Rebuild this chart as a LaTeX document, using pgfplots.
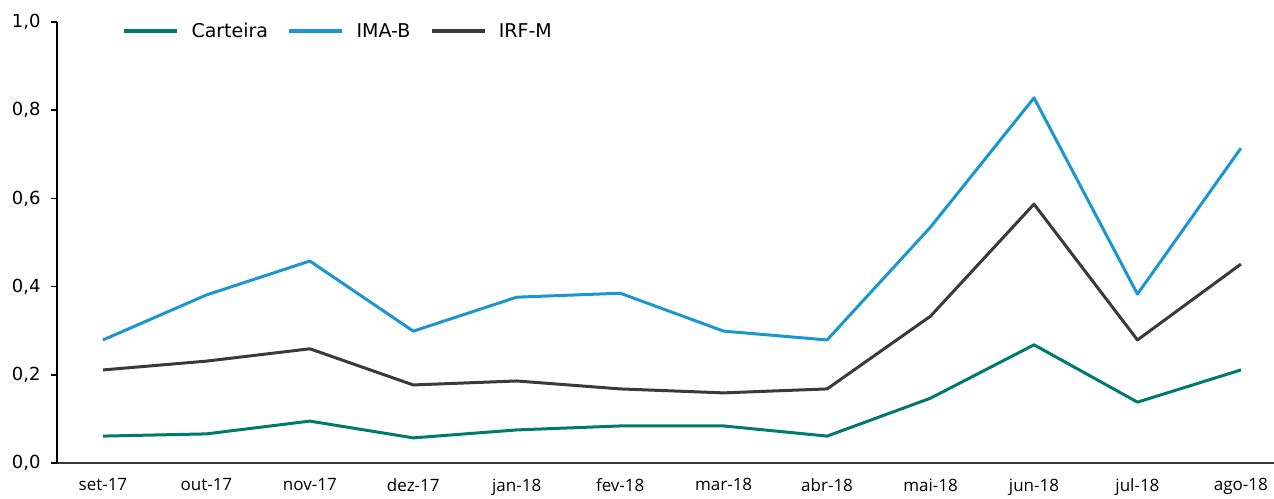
\documentclass[border=0pt]{standalone}
\usepackage{fontspec}
\setmainfont{Open Sans}
\newfontfamily\legfont{DejaVu Sans}
\usepackage{pgfplots}
\pgfplotsset{compat=1.18}
\definecolor{cart}{HTML}{007A6E}
\definecolor{imab}{HTML}{1B96D0}
\definecolor{irfm}{HTML}{3A393E}
\begin{document}
\begin{tikzpicture}
\begin{axis}[
  at={(0,0)}, anchor=south west,
  scale only axis,
  width=1217pt, height=441pt,
  xmin=-0.444, xmax=11.32,
  ymin=0, ymax=1.0,
  axis x line=bottom, axis y line=left,
  x axis line style={-, draw=irfm, line width=2.5pt},
  y axis line style={-, draw=black, line width=2pt},
  xtick={0,...,11},
  xticklabels={set-17,out-17,nov-17,dez-17,jan-18,fev-18,mar-18,abr-18,mai-18,jun-18,jul-18,ago-18},
  xtick style={draw=none},
  ytick={0,0.2,0.4,0.6,0.8,1.0},
  yticklabels={{0,0},{0,2},{0,4},{0,6},{0,8},{1,0}},
  ytick style={draw=black, line width=1.5pt},
  tick align=outside,
  major tick length=6pt,
  xticklabel style={font=\fontsize{17}{20}\selectfont, text=black, yshift=-6pt},
  yticklabel style={font=\legfont\fontsize{18}{21}\selectfont, text=black, xshift=-7pt},
  legend columns=3,
  legend style={draw=none, fill=none, at={(65pt,432pt)}, anchor=west,
    font=\legfont\fontsize{19}{22}\selectfont, inner sep=0pt, outer sep=0pt,
    /tikz/every even column/.append style={column sep=17pt}},
  legend image code/.code={\draw[#1, line width=4.5pt] (0pt,0pt) -- (53pt,0pt);},
  legend cell align=left,
  every axis plot/.append style={line width=3pt, line join=round},
]
\addplot[cart] coordinates {(0,0.061)(1,0.066)(2,0.095)(3,0.057)(4,0.075)(5,0.084)(6,0.084)(7,0.061)(8,0.147)(9,0.268)(10,0.138)(11,0.211)};
\addlegendentry{\hspace{10pt}Carteira}
\addplot[imab] coordinates {(0,0.279)(1,0.381)(2,0.458)(3,0.299)(4,0.376)(5,0.385)(6,0.299)(7,0.279)(8,0.535)(9,0.828)(10,0.383)(11,0.714)};
\addlegendentry{\hspace{10pt}IMA-B}
\addplot[irfm] coordinates {(0,0.211)(1,0.231)(2,0.259)(3,0.177)(4,0.186)(5,0.168)(6,0.159)(7,0.168)(8,0.333)(9,0.587)(10,0.279)(11,0.451)};
\addlegendentry{\hspace{10pt}IRF-M}
\end{axis}
\pgfresetboundingbox
\path (-57pt,-35pt) rectangle (1217pt,463pt);
\end{tikzpicture}
\end{document}
